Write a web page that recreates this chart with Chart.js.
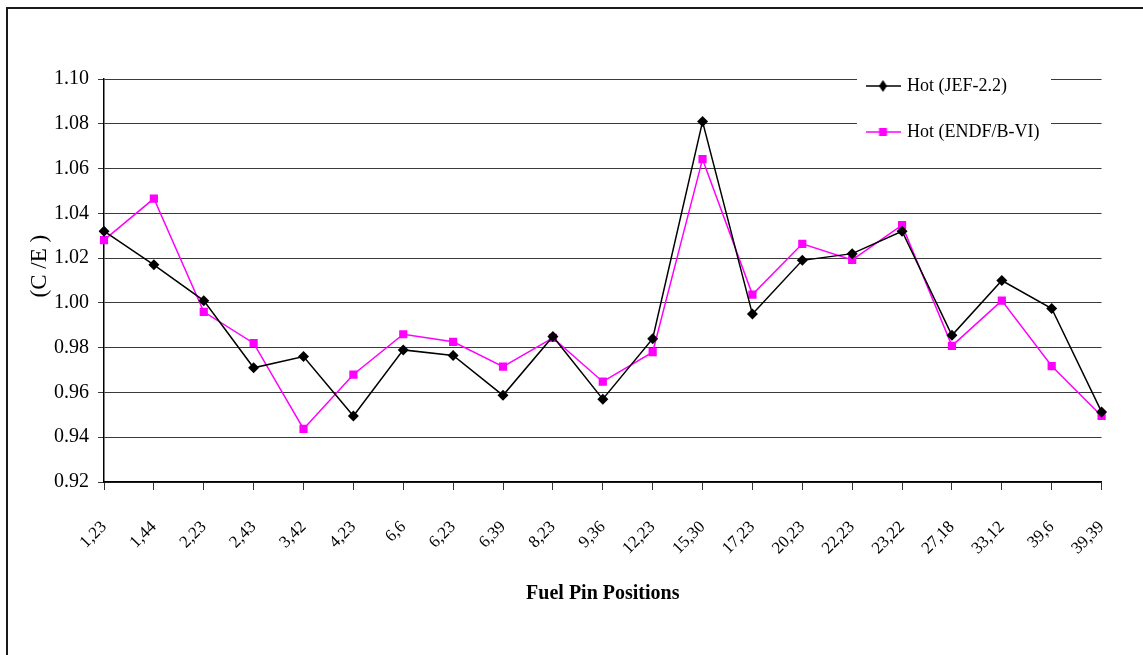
<!DOCTYPE html>
<html lang="en">
  <head>
    <meta charset="UTF-8" />
    <title>C/E by fuel pin position</title>
    <script src="https://cdn.jsdelivr.net/npm/chart.js"></script>
    <style>
      html, body { margin: 0; padding: 0; background: #fff; overflow: hidden; }
      .frame {
        position: absolute; left: 6px; top: 7px; width: 1200px; height: 700px;
        border-left: 2px solid #1a1a1a; border-top: 2px solid #1a1a1a;
      }
      .chart-box { position: absolute; left: 0; top: 0; width: 1143px; height: 655px; }
    </style>
  </head>
  <body>
    <div class="frame"></div>
    <div class="chart-box">
      <canvas id="ceChart"></canvas>
    </div>

    <script>
      const positions = ['1,23', '1,44', '2,23', '2,43', '3,42', '4,23', '6,6', '6,23', '6,39', '8,23', '9,36',
        '12,23', '15,30', '17,23', '20,23', '22,23', '23,22', '27,18', '33,12', '39,6', '39,39'];

      const hotJef = [1.032, 1.017, 1.001, 0.971, 0.976, 0.9495, 0.979, 0.9765, 0.9587, 0.985, 0.957,
        0.984, 1.081, 0.995, 1.019, 1.022, 1.032, 0.9855, 1.010, 0.9975, 0.9513];

      const hotEndf = [1.028, 1.0466, 0.996, 0.982, 0.9437, 0.968, 0.986, 0.9826, 0.9715, 0.9844, 0.9648,
        0.978, 1.0642, 1.0037, 1.0264, 1.0192, 1.0347, 0.9808, 1.001, 0.9718, 0.9495];

      const yMin = 0.92;
      const yMax = 1.10;
      const yStep = 0.02;

      const serif = 'Liberation Serif';

      // small legend glyphs: line with the marker on it
      function legendGlyph(color, shape) {
        const c = document.createElement('canvas');
        c.width = 35;
        c.height = 14;
        const g = c.getContext('2d');
        g.strokeStyle = color;
        g.fillStyle = color;
        g.lineWidth = 1.5;
        g.beginPath();
        g.moveTo(0, 7);
        g.lineTo(35, 7);
        g.stroke();
        g.beginPath();
        if (shape === 'diamond') {
          g.moveTo(17.5, 1);
          g.lineTo(21.5, 7);
          g.lineTo(17.5, 13);
          g.lineTo(13.5, 7);
          g.closePath();
        } else {
          g.rect(13.5, 3, 8, 8);
        }
        g.fill();
        return c;
      }

      const glyphs = [legendGlyph('#000000', 'diamond'), legendGlyph('#ff00ff', 'square')];

      // put the legend in the top right corner of the plot, over a white patch
      const legendSpot = {
        id: 'legendSpot',
        afterLayout(chart) {
          const leg = chart.legend;
          if (!leg) return;
          const w = leg.width, h = leg.height;
          leg.left = 840;
          leg.top = 49;
          leg.right = leg.left + w;
          leg.bottom = leg.top + h;
          if (!leg._patched) {
            const orig = leg.draw.bind(leg);
            leg.draw = function () {
              const ctx = chart.ctx;
              ctx.save();
              ctx.fillStyle = '#ffffff';
              ctx.fillRect(857, 62, 194, 90);
              ctx.restore();
              orig();
            };
            leg._patched = true;
          }
        },
      };

      const ctx = document.getElementById('ceChart').getContext('2d');
      new Chart(ctx, {
        type: 'line',
        data: {
          labels: positions,
          datasets: [
            {
              label: 'Hot (JEF-2.2)',
              data: hotJef,
              borderColor: '#000000',
              backgroundColor: '#000000',
              borderWidth: 1.5,
              pointStyle: 'rectRot',
              pointRadius: 5.5,
              pointBorderWidth: 0,
              tension: 0,
            },
            {
              label: 'Hot (ENDF/B-VI)',
              data: hotEndf,
              borderColor: '#ff00ff',
              backgroundColor: '#ff00ff',
              borderWidth: 1.5,
              pointStyle: 'rect',
              pointRadius: 5.8,
              pointBorderWidth: 0,
              tension: 0,
            },
          ],
        },
        options: {
          responsive: true,
          maintainAspectRatio: false,
          animation: false,
          layout: { padding: { left: 0, top: 79, right: 41, bottom: 0 } },
          plugins: {
            tooltip: { enabled: false },
            legend: {
              position: 'chartArea',
              align: 'start',
              labels: {
                usePointStyle: true,
                pointStyleWidth: 30,
                padding: 28,
                color: '#000',
                font: { family: serif, size: 18 },
                generateLabels(chart) {
                  return chart.data.datasets.map((ds, i) => ({
                    text: ds.label,
                    pointStyle: glyphs[i],
                    fillStyle: ds.backgroundColor,
                    strokeStyle: ds.borderColor,
                    lineWidth: 0,
                    hidden: false,
                    datasetIndex: i,
                    fontColor: '#000',
                  }));
                },
              },
            },
          },
          scales: {
            x: {
              offset: false,
              afterFit(scale) { scale.height = 173; },
              grid: { drawOnChartArea: false, drawTicks: true, tickLength: 8, color: '#333' },
              border: { color: '#000', width: 1.5 },
              ticks: {
                autoSkip: false,
                minRotation: 45,
                maxRotation: 45,
                padding: 27,
                color: '#000',
                font: { family: serif, size: 17 },
              },
              title: {
                display: true,
                text: 'Fuel Pin Positions',
                color: '#000',
                font: { family: serif, size: 20, weight: 'bold' },
                padding: { top: 0, bottom: 49 },
              },
            },
            y: {
              min: yMin,
              max: yMax,
              afterFit(scale) { scale.width = 104; },
              grid: { color: '#3a3a3a', lineWidth: 1, tickLength: 6 },
              border: { color: '#000', width: 1.5 },
              ticks: {
                stepSize: yStep,
                padding: 9,
                color: '#000',
                font: { family: serif, size: 20 },
                callback: (v) => Number(v).toFixed(2),
              },
              title: {
                display: true,
                // leading no-break spaces nudge the centred title up, as in the original
                text: '\u00a0\u00a0\u00a0\u00a0\u00a0(C /E )',
                color: '#000',
                font: { family: serif, size: 23 },
                padding: { top: 26, bottom: 0 },
              },
            },
          },
        },
        plugins: [legendSpot],
      });
    </script>
  </body>
</html>
